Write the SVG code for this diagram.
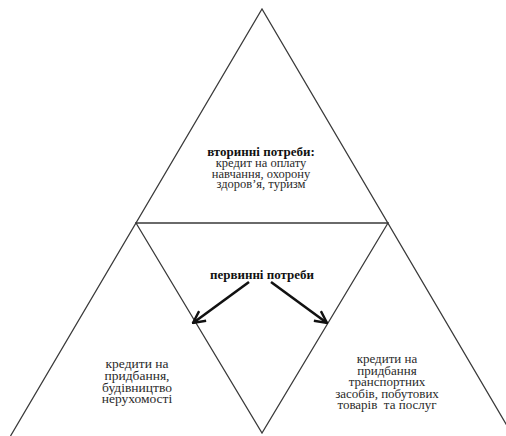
<svg xmlns="http://www.w3.org/2000/svg" width="506" height="436" viewBox="0 0 506 436">
<style>
.ln{stroke:#3a3a3a;stroke-width:1.3;fill:none}
.ar{stroke:#111;stroke-width:2.6;fill:none}
text{font-family:"Liberation Serif","Times New Roman",serif;fill:#2a2a2a;text-anchor:middle;font-size:12.5px}
.b{font-weight:bold;font-size:13px;fill:#111}
.l{font-size:13.5px}
.r{font-size:13px}
</style>
<defs>
<marker id="ah" viewBox="0 0 12 12" refX="11" refY="6" markerWidth="5.5" markerHeight="5.5" orient="auto" markerUnits="strokeWidth">
<path d="M1,1 L11,6 L1,11" fill="none" stroke="#111" stroke-width="2"/>
</marker>
</defs>
<rect width="506" height="436" fill="#fff"/>
<g id="outer-triangle">
<path class="ln" d="M10.5,436 L262,9 L513,436"/>
</g>
<g id="middle-triangle">
<path class="ln" d="M136,223 L388,223 L262,433 Z"/>
</g>
<g id="top-node">
<text class="b" x="261" y="156">вторинні потреби:</text>
<text x="261" y="166.8">кредит на оплату</text>
<text x="261" y="177.5">навчання, охорону</text>
<text x="261" y="188.3">здоров’я, туризм</text>
</g>
<g id="center-node">
<text class="b" x="262" y="279">первинні потреби</text>
</g>
<g id="left-node">
<text class="l" x="137" y="368">кредити на</text>
<text class="l" x="137" y="380">придбання,</text>
<text class="l" x="137" y="391.5">будівництво</text>
<text class="l" x="137" y="403">нерухомості</text>
</g>
<g id="right-node">
<text class="r" x="387" y="363">кредити на</text>
<text class="r" x="387" y="374.5">придбання</text>
<text class="r" x="387" y="386">транспортних</text>
<text class="r" x="387" y="397.5">засобів, побутових</text>
<text class="r" x="387" y="408.5" xml:space="preserve">товарів  та послуг</text>
</g>
<g id="connectors">
<line class="ar" x1="249" y1="282" x2="193" y2="323" marker-end="url(#ah)"/>
<line class="ar" x1="271" y1="282" x2="327" y2="323" marker-end="url(#ah)"/>
</g>
</svg>
